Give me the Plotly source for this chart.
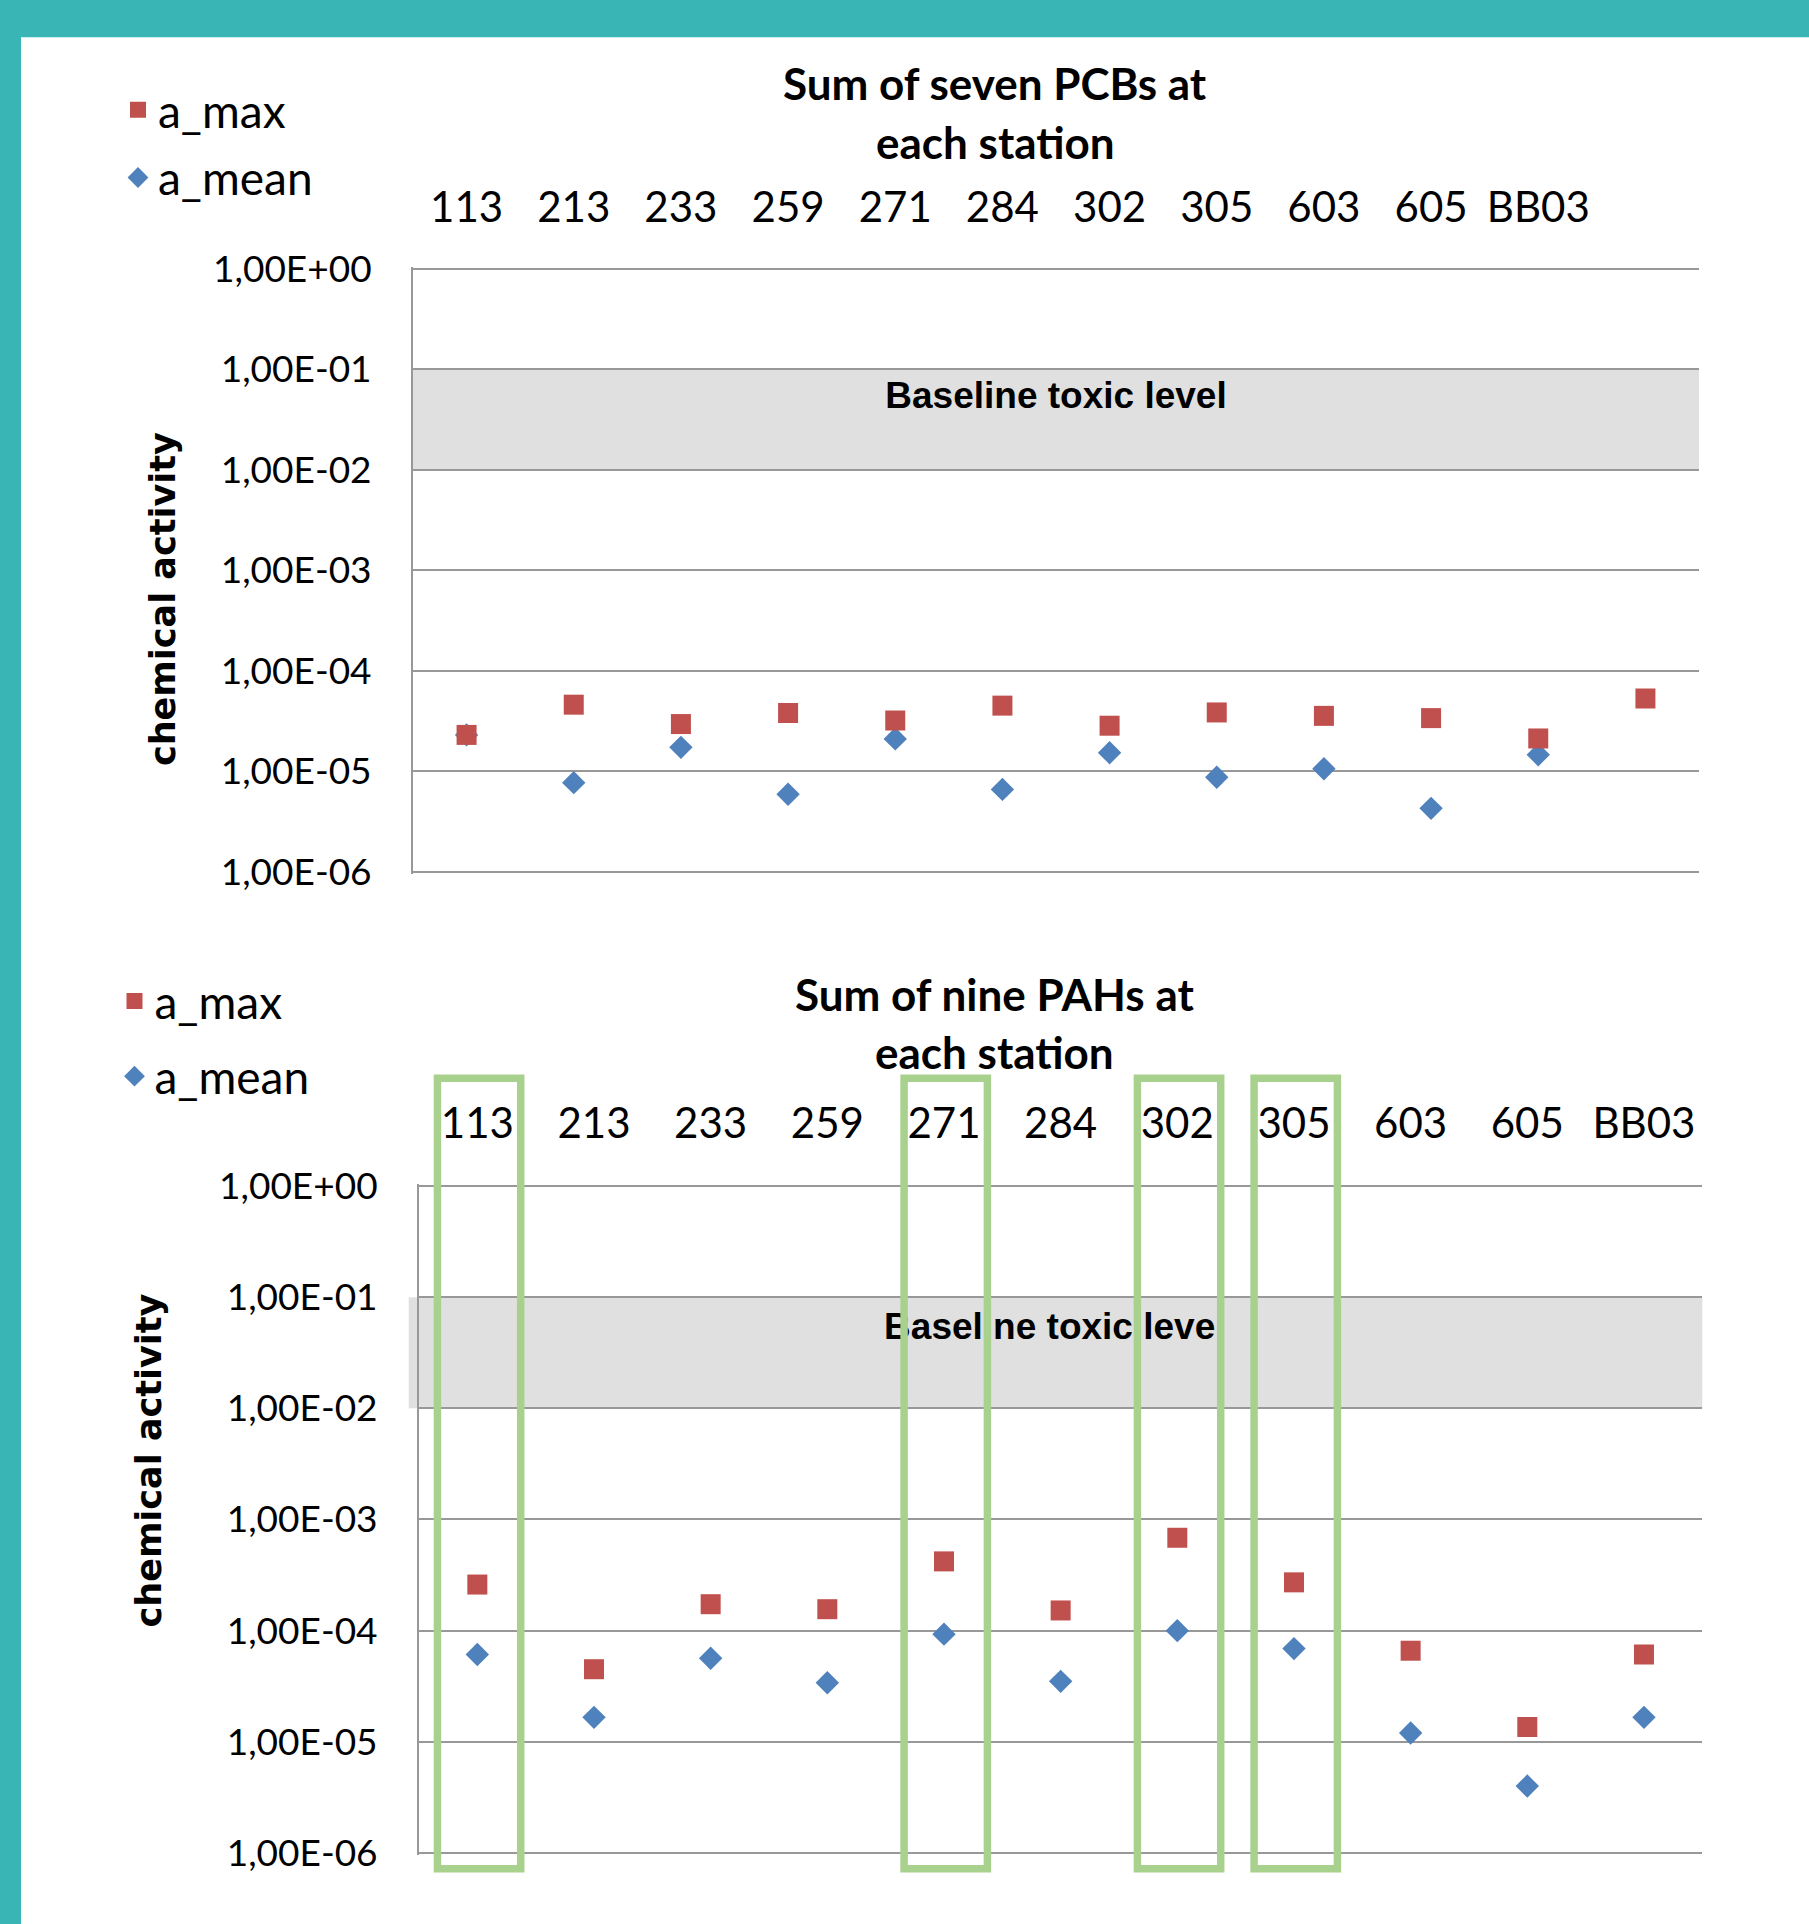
import plotly.graph_objects as go

W, H = 1809, 1924

# ---------------- data ----------------
pcb_stations = ["113", "213", "233", "259", "271", "284", "302", "305", "603", "605", "BB03", ""]
pcb_a_max = [2.3e-5, 4.6e-5, 2.95e-5, 3.8e-5, 3.2e-5, 4.5e-5, 2.84e-5, 3.85e-5, 3.56e-5, 3.38e-5, 2.12e-5, 5.3e-5]
pcb_a_mean = [2.3e-5, 7.7e-6, 1.73e-5, 5.9e-6, 2.1e-5, 6.6e-6, 1.53e-5, 8.7e-6, 1.06e-5, 4.27e-6, 1.46e-5, None]

pah_stations = ["113", "213", "233", "259", "271", "284", "302", "305", "603", "605", "BB03"]
pah_a_max = [2.6e-4, 4.5e-5, 1.73e-4, 1.56e-4, 4.2e-4, 1.52e-4, 6.85e-4, 2.72e-4, 6.6e-5, 1.36e-5, 6.1e-5]
pah_a_mean = [6.1e-5, 1.66e-5, 5.65e-5, 3.4e-5, 9.3e-5, 3.5e-5, 1.0e-4, 6.9e-5, 1.2e-5, 4.0e-6, 1.66e-5]
pah_highlighted = ["113", "271", "302", "305"]

y_tickvals = [1e0, 1e-1, 1e-2, 1e-3, 1e-4, 1e-5, 1e-6]
y_ticktext = ["1,00E+00", "1,00E-01", "1,00E-02", "1,00E-03", "1,00E-04", "1,00E-05", "1,00E-06"]

baseline_low, baseline_high = 0.01, 0.1
baseline_label = "Baseline toxic level"
baseline_label_y = 0.051

pcb_title = ["Sum of seven PCBs at", "each station"]
pah_title = ["Sum of nine PAHs at", "each station"]
y_title = "chemical activity"

# ---------------- styles ----------------
RED = "#C0504D"
BLUE = "#4F81BD"
GREEN = "#A9D18E"
TEAL = "#3AB5B6"
GRID = "#989898"
BAND = "#E0E0E0"
CAL = "Lato"


def px_x(x):
    return x / W


def px_y(y):
    return 1 - y / H


fig = go.Figure()

# top chart traces
pcb_x = list(range(len(pcb_stations)))
fig.add_trace(go.Scatter(
    x=pcb_x, y=pcb_a_mean, mode="markers", name="a_mean",
    marker=dict(symbol="diamond", size=18, color=BLUE, line=dict(width=0)),
    xaxis="x", yaxis="y", legend="legend", legendgroup="pcb_mean", legendrank=2))
fig.add_trace(go.Scatter(
    x=pcb_x, y=pcb_a_max, mode="markers", name="a_max",
    marker=dict(symbol="square", size=20, color=RED, line=dict(width=0)),
    xaxis="x", yaxis="y", legend="legend", legendgroup="pcb_max", legendrank=1))
fig.add_trace(go.Scatter(
    x=[(len(pcb_stations) - 1) / 2], y=[baseline_label_y], mode="text",
    text=["<b>" + baseline_label + "</b>"],
    textfont=dict(family="Liberation Sans", size=37, color="black"),
    showlegend=False, hoverinfo="skip", xaxis="x", yaxis="y"))

# bottom chart traces
pah_x = list(range(len(pah_stations)))
fig.add_trace(go.Scatter(
    x=pah_x, y=pah_a_mean, mode="markers", name="a_mean",
    marker=dict(symbol="diamond", size=18, color=BLUE, line=dict(width=0)),
    xaxis="x2", yaxis="y2", legend="legend2", legendgroup="pah_mean", legendrank=2))
fig.add_trace(go.Scatter(
    x=pah_x, y=pah_a_max, mode="markers", name="a_max",
    marker=dict(symbol="square", size=20, color=RED, line=dict(width=0)),
    xaxis="x2", yaxis="y2", legend="legend2", legendgroup="pah_max", legendrank=1))
fig.add_trace(go.Scatter(
    x=[4.95], y=[baseline_label_y], mode="text",
    text=["<b>" + baseline_label + "</b>"],
    textfont=dict(family="Liberation Sans", size=37, color="black"),
    showlegend=False, hoverinfo="skip", xaxis="x2", yaxis="y2"))

# axis geometry (pixels)
TOP_L, TOP_R, TOP_T, TOP_B = 413, 1699, 269.0, 871.7
BOT_L, BOT_R, BOT_T, BOT_B = 419, 1702.3, 1186.0, 1853.0
PAD = 0.02
top_dec = (TOP_B - TOP_T) / 6
bot_dec = (BOT_B - BOT_T) / 6


def xaxis_common(n, labels):
    return dict(
        range=[-0.5, n - 0.5], tickmode="array", tickvals=list(range(n)), ticktext=labels,
        side="top", showgrid=False, zeroline=False, showline=False, ticks="",
        tickfont=dict(family=CAL, size=42, color="black"), ticklabelstandoff=36,
        fixedrange=True, automargin=False)


def yaxis_common():
    return dict(
        type="log", range=[-6 - PAD, 0 + PAD], tickmode="array",
        tickvals=y_tickvals, ticktext=y_ticktext,
        showgrid=True, gridcolor=GRID, gridwidth=2, zeroline=False,
        showline=True, linecolor=GRID, linewidth=2, ticks="",
        tickfont=dict(family=CAL, size=37, color="black"), ticklabelstandoff=32,
        fixedrange=True, automargin=False)


xa = xaxis_common(len(pcb_stations), pcb_stations)
xa.update(domain=[px_x(TOP_L), px_x(TOP_R)], anchor="y")
ya = yaxis_common()
ya.update(domain=[px_y(TOP_B + PAD * top_dec), px_y(TOP_T - PAD * top_dec)], anchor="x")

xa2 = xaxis_common(len(pah_stations), pah_stations)
xa2.update(domain=[px_x(BOT_L), px_x(BOT_R)], anchor="y2")
ya2 = yaxis_common()
ya2.update(domain=[px_y(BOT_B + PAD * bot_dec), px_y(BOT_T - PAD * bot_dec)], anchor="x2")

shapes = [
    dict(type="rect", xref="x domain", x0=0, x1=1, yref="y", y0=baseline_low, y1=baseline_high,
         fillcolor=BAND, line=dict(width=0), layer="below"),
    dict(type="rect", xref="x2 domain", x0=-0.008, x1=1, yref="y2", y0=baseline_low, y1=baseline_high,
         fillcolor=BAND, line=dict(width=0), layer="below"),
]
for s in pah_highlighted:
    i = pah_stations.index(s)
    shapes.append(dict(type="rect", xref="x2", x0=i - 0.342, x1=i + 0.372,
                       yref="paper", y0=px_y(1868.8), y1=px_y(1078.3),
                       line=dict(color=GREEN, width=7.5), fillcolor="rgba(0,0,0,0)", layer="above"))
# teal frame
shapes.append(dict(type="rect", xref="paper", yref="paper", x0=0, x1=1, y0=px_y(37.3), y1=1,
                   fillcolor=TEAL, line=dict(width=0), layer="above"))
shapes.append(dict(type="rect", xref="paper", yref="paper", x0=0, x1=px_x(21), y0=0, y1=1,
                   fillcolor=TEAL, line=dict(width=0), layer="above"))

annotations = []
for txt, yy in zip(pcb_title, [83.5, 141.7]):
    annotations.append(dict(text="<b>" + txt + "</b>", x=px_x(995), y=px_y(yy), xref="paper", yref="paper",
                            xanchor="center", yanchor="middle", showarrow=False,
                            font=dict(family=CAL, size=44, color="black")))
for txt, yy in zip(pah_title, [994, 1052]):
    annotations.append(dict(text="<b>" + txt + "</b>", x=px_x(994), y=px_y(yy), xref="paper", yref="paper",
                            xanchor="center", yanchor="middle", showarrow=False,
                            font=dict(family=CAL, size=44, color="black")))
for xx, yy in [(162.5, 599.6), (148, 1460.5)]:
    annotations.append(dict(text="<b>" + y_title + "</b>", x=px_x(xx), y=px_y(yy), xref="paper", yref="paper",
                            xanchor="center", yanchor="middle", showarrow=False, textangle=-90,
                            font=dict(family="DejaVu Sans", size=35, color="black")))

legend_common = dict(xanchor="left", yanchor="top", bgcolor="rgba(0,0,0,0)", borderwidth=0,
                     font=dict(family=CAL, size=46, color="black"), itemwidth=30,
                     traceorder="grouped")

fig.update_layout(
    width=W, height=H, margin=dict(l=0, r=0, t=0, b=0, pad=0),
    paper_bgcolor="white", plot_bgcolor="white", template="none",
    showlegend=True,
    xaxis=xa, yaxis=ya, xaxis2=xa2, yaxis2=ya2,
    shapes=shapes, annotations=annotations,
    legend=dict(x=px_x(118), y=px_y(73.3), tracegroupgap=5, **legend_common),
    legend2=dict(x=px_x(114.5), y=px_y(964.7), tracegroupgap=12.3, **legend_common),
)

fig.write_html("out.html", config={"displayModeBar": False},
               post_script="document.body.style.margin='0';")
